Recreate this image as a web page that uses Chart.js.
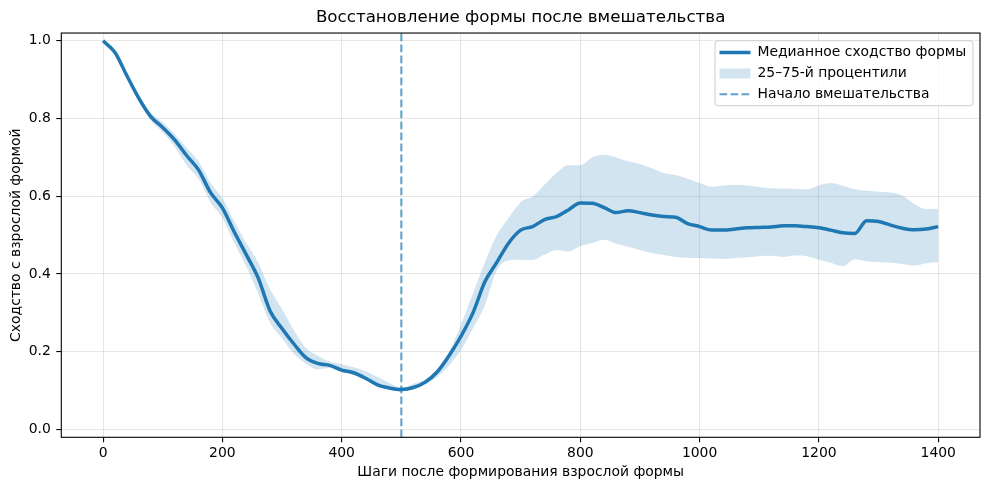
<!DOCTYPE html>
<html>
<head>
<meta charset="utf-8">
<script src="https://cdn.jsdelivr.net/npm/chart.js@4.4.0/dist/chart.umd.min.js"></script>
<style>
  html, body { margin: 0; padding: 0; background: #fff; }
  #wrap { width: 989px; height: 490px; }
</style>
</head>
<body>
<div id="wrap"><canvas id="shapeChart" width="989" height="490"></canvas></div>
<script>
// данные графика
var steps = [0, 20, 40, 60, 80, 100, 120, 140, 160, 180, 200, 220, 240, 260, 280, 300, 320, 340, 360, 380,
  400, 420, 440, 460, 480, 500, 520, 540, 560, 580, 600, 620, 640, 660, 680, 700, 720, 740, 760, 780,
  800, 820, 840, 860, 880, 900, 920, 940, 960, 980, 1000, 1020, 1040, 1060, 1080, 1100, 1120, 1140, 1160, 1180,
  1200, 1220, 1240, 1260, 1280, 1300, 1320, 1340, 1360, 1380, 1400];

var medianSim = [1.000, 0.970, 0.910, 0.852, 0.805, 0.777, 0.745, 0.705, 0.668, 0.610,
  0.570, 0.508, 0.450, 0.390, 0.305, 0.260, 0.220, 0.185, 0.170, 0.165,
  0.153, 0.146, 0.132, 0.115, 0.107, 0.103, 0.108, 0.122, 0.148, 0.190,
  0.240, 0.300, 0.380, 0.430, 0.480, 0.513, 0.522, 0.540, 0.548, 0.565,
  0.583, 0.582, 0.571, 0.558, 0.563, 0.558, 0.552, 0.548, 0.546, 0.530,
  0.522, 0.513, 0.513, 0.516, 0.519, 0.520, 0.521, 0.524, 0.524, 0.522,
  0.519, 0.513, 0.506, 0.504, 0.537, 0.535, 0.526, 0.518, 0.514, 0.516, 0.522];

var q25 = [0.998, 0.966, 0.905, 0.845, 0.795, 0.765, 0.728, 0.680, 0.645, 0.585,
  0.545, 0.480, 0.420, 0.350, 0.275, 0.235, 0.195, 0.170, 0.155, 0.158,
  0.148, 0.140, 0.127, 0.110, 0.102, 0.098, 0.103, 0.115, 0.135, 0.165,
  0.205, 0.260, 0.320, 0.410, 0.435, 0.437, 0.436, 0.450, 0.462, 0.458,
  0.472, 0.480, 0.488, 0.478, 0.470, 0.462, 0.454, 0.449, 0.444, 0.442,
  0.441, 0.440, 0.439, 0.441, 0.443, 0.446, 0.447, 0.444, 0.448, 0.446,
  0.437, 0.429, 0.420, 0.438, 0.433, 0.431, 0.429, 0.426, 0.422, 0.428, 0.431];

var q75 = [1.002, 0.975, 0.915, 0.862, 0.815, 0.790, 0.760, 0.725, 0.690, 0.635,
  0.595, 0.535, 0.480, 0.430, 0.360, 0.310, 0.255, 0.210, 0.190, 0.175,
  0.168, 0.160, 0.150, 0.135, 0.120, 0.108, 0.118, 0.128, 0.155, 0.200,
  0.270, 0.350, 0.430, 0.500, 0.545, 0.585, 0.600, 0.630, 0.660, 0.680,
  0.680, 0.700, 0.707, 0.700, 0.690, 0.683, 0.672, 0.660, 0.655, 0.645,
  0.634, 0.625, 0.628, 0.630, 0.628, 0.624, 0.621, 0.620, 0.619, 0.618,
  0.628, 0.634, 0.627, 0.618, 0.614, 0.612, 0.610, 0.602, 0.580, 0.567, 0.568];

var interventionStep = 500;
var xTicks = [0, 200, 400, 600, 800, 1000, 1200, 1400];
var yTicks = [0.0, 0.2, 0.4, 0.6, 0.8, 1.0];
var xRange = [-70, 1470];
var yRange = [-0.02, 1.02];

var chartTitle = 'Восстановление формы после вмешательства';
var xTitle = 'Шаги после формирования взрослой формы';
var yTitle = 'Сходство с взрослой формой';

function pts(xs, ys) {
  return xs.map(function (x, i) { return { x: x, y: ys[i] }; });
}

var blue = '#1f77b4';
var band = 'rgba(31,119,180,0.2)';
var gridColor = 'rgba(176,176,176,0.3)';

Chart.defaults.font.family = 'DejaVu Sans';
Chart.defaults.font.size = 13.9;
Chart.defaults.color = '#000';

// рамка вокруг области графика
var plotFrame = {
  id: 'plotFrame',
  afterDatasetsDraw: function (chart) {
    var a = chart.chartArea, ctx = chart.ctx;
    ctx.save();
    ctx.strokeStyle = '#000';
    ctx.lineWidth = 1.1;
    ctx.strokeRect(a.left, a.top, a.right - a.left, a.bottom - a.top);
    ctx.restore();
  }
};

// легенда в правом верхнем углу с рамкой
var legendFrame = {
  id: 'legendFrame',
  afterLayout: function (chart) {
    var lg = chart.legend, a = chart.chartArea;
    lg.left = a.right - 267.5;
    lg.top = a.top + 5.5;
    if (!lg._framed) {
      var draw = lg.draw;
      lg.draw = function (area) {
        var ctx = chart.ctx, ca = chart.chartArea;
        ctx.save();
        ctx.fillStyle = 'rgba(255,255,255,0.8)';
        ctx.strokeStyle = '#cccccc';
        ctx.lineWidth = 1;
        ctx.beginPath();
        ctx.roundRect(ca.right - 265, ca.top + 7.7, 258, 65, 3);
        ctx.fill();
        ctx.stroke();
        ctx.restore();
        draw.call(this, area);
      };
      lg._framed = true;
    }
  }
};

var ctx = document.getElementById('shapeChart').getContext('2d');
var chart = new Chart(ctx, {
  type: 'line',
  data: {
    datasets: [
      {
        label: 'Медианное сходство формы',
        data: pts(steps, medianSim),
        borderColor: blue,
        backgroundColor: blue,
        borderWidth: 3.5,
        pointRadius: 0,
        pointStyle: 'line',
        cubicInterpolationMode: 'monotone',
        fill: false
      },
      {
        label: '25-й процентиль',
        data: pts(steps, q25),
        borderColor: 'transparent',
        backgroundColor: 'transparent',
        borderWidth: 0,
        pointRadius: 0,
        cubicInterpolationMode: 'monotone',
        fill: false
      },
      {
        label: '25–75-й процентили',
        data: pts(steps, q75),
        borderColor: 'transparent',
        backgroundColor: band,
        borderWidth: 0,
        pointRadius: 0,
        pointStyle: 'rect',
        cubicInterpolationMode: 'monotone',
        fill: '-1'
      },
      {
        label: 'Начало вмешательства',
        data: [{ x: interventionStep, y: yRange[0] }, { x: interventionStep, y: yRange[1] }],
        borderColor: 'rgba(31,119,180,0.7)',
        backgroundColor: 'rgba(31,119,180,0.7)',
        borderWidth: 2.1,
        borderDash: [7.7, 3.3],
        pointRadius: 0,
        pointStyle: 'line',
        fill: false
      }
    ]
  },
  options: {
    responsive: false,
    animation: false,
    devicePixelRatio: 1,
    layout: { padding: { left: 0, right: 9, top: 0, bottom: 0 } },
    plugins: {
      title: {
        display: true,
        text: chartTitle,
        fullSize: false,
        color: '#000',
        font: { size: 16.7, weight: 'normal' },
        padding: { top: 8, bottom: 5 }
      },
      legend: {
        position: 'chartArea',
        align: 'start',
        labels: {
          usePointStyle: true,
          pointStyleWidth: 31,
          boxHeight: 10,
          padding: 7,
          color: '#000',
          font: { size: 13.9 },
          generateLabels: function (chart) {
            return [0, 2, 3].map(function (i) {
              var ds = chart.data.datasets[i];
              return {
                text: ds.label,
                datasetIndex: i,
                fillStyle: ds.backgroundColor,
                strokeStyle: ds.borderColor,
                lineWidth: ds.borderWidth,
                lineDash: ds.borderDash || [],
                pointStyle: ds.pointStyle,
                fontColor: '#000',
                hidden: false
              };
            });
          }
        }
      },
      tooltip: { enabled: false }
    },
    scales: {
      x: {
        type: 'linear',
        min: xRange[0],
        max: xRange[1],
        afterBuildTicks: function (s) { s.ticks = xTicks.map(function (v) { return { value: v }; }); },
        afterFit: function (s) { s.height = 52.7; },
        ticks: { autoSkip: false, maxRotation: 0, padding: 3, callback: function (v) { return String(v); } },
        grid: { color: gridColor, lineWidth: 1.1, tickColor: '#000', tickLength: 5, tickWidth: 1.1 },
        border: { display: false },
        title: { display: true, text: xTitle, padding: { top: 0, bottom: 9.7 } }
      },
      y: {
        type: 'linear',
        min: yRange[0],
        max: yRange[1],
        afterBuildTicks: function (s) { s.ticks = yTicks.map(function (v) { return { value: v }; }); },
        afterFit: function (s) { s.width = 61.3; },
        ticks: { padding: 5.5, callback: function (v) { return v.toFixed(1); } },
        grid: { color: gridColor, lineWidth: 1.1, tickColor: '#000', tickLength: 5, tickWidth: 1.1 },
        border: { display: false },
        title: { display: true, text: yTitle, padding: { top: 7.6, bottom: 0 } }
      }
    }
  },
  plugins: [plotFrame, legendFrame]
});
</script>
</body>
</html>
